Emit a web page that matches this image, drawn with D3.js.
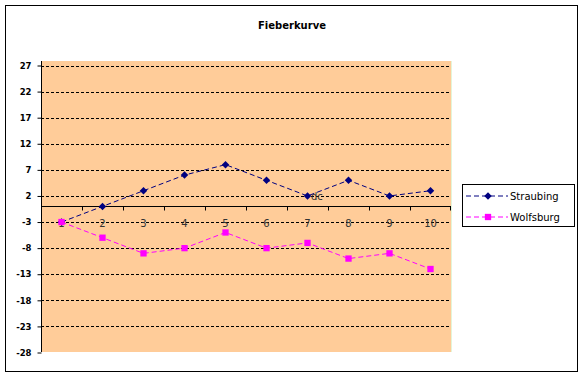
<html>
<head>
<meta charset="utf-8">
<script src="https://cdn.jsdelivr.net/npm/d3@7"></script>
<style>
    body { margin: 0; background: #fff; }
    text { font-family: "DejaVu Sans", sans-serif; }
</style>
</head>
<body>
<svg id="chart" width="584" height="377"></svg>
<script>
    // Daten
    var tage = ["1", "2", "3", "4", "5", "6", "7", "8", "9", "10"];
    var straubing = [-3, 0, 3, 6, 8, 5, 2, 5, 2, 3];
    var wolfsburg = [-3, -6, -9, -8, -5, -8, -7, -10, -9, -12];
    var yTicks = [27, 22, 17, 12, 7, 2, -3, -8, -13, -18, -23, -28];
    var serien = [
        { name: "Straubing", values: straubing, color: "#000080", symbol: d3.symbolDiamond2, size: 36 },
        { name: "Wolfsburg", values: wolfsburg, color: "#ff00ff", symbol: d3.symbolSquare, size: 40 }
    ];

    var svg = d3.select("svg");

    // Rahmen
    svg.append("rect")
        .attr("x", 5.5).attr("y", 5.5)
        .attr("width", 572).attr("height", 366)
        .attr("fill", "#fff")
        .attr("stroke", "#000")
        .attr("stroke-width", 1);

    svg.append("text")
        .attr("x", 292)
        .attr("y", 29)
        .attr("text-anchor", "middle")
        .style("font-size", "10px")
        .style("font-weight", "bold")
        .text("Fieberkurve");

    var pLeft = 41, pRight = 451, pTop = 61, pBottom = 352;

    var x = d3.scaleBand().domain(tage).range([pLeft, pRight]);
    var y = d3.scaleLinear().domain([-28, 27]).range([352.5, 65.5]);

    // Zeichenfläche
    svg.append("rect")
        .attr("x", pLeft).attr("y", pTop)
        .attr("width", pRight - pLeft).attr("height", pBottom - pTop)
        .attr("fill", "#ffcc99");
    svg.append("line")
        .attr("x1", pRight + 0.5).attr("x2", pRight + 0.5)
        .attr("y1", pTop).attr("y2", pBottom)
        .attr("stroke", "#e4f5d8");

    // Gitternetz
    svg.append("g")
        .selectAll("line")
        .data(yTicks.filter(function(d) { return d != -28; }))
        .enter().append("line")
        .attr("x1", pLeft).attr("x2", pRight)
        .attr("y1", function(d) { return Math.round(y(d)) + 0.5; })
        .attr("y2", function(d) { return Math.round(y(d)) + 0.5; })
        .attr("stroke", "#000")
        .attr("stroke-dasharray", "3,2");

    // y-Achse
    var gy = svg.append("g")
        .attr("transform", "translate(" + (pLeft + 0.5) + ",0)")
        .call(d3.axisLeft(y).tickValues(yTicks).tickSize(4).tickSizeOuter(0).tickPadding(6)
            .tickFormat(function(d) { return d + ""; }));
    gy.select(".domain").attr("d", "M0," + pTop + "V" + pBottom);
    gy.selectAll("text")
        .style("font-size", "8.5px")
        .style("font-weight", "bold")
        .attr("font-family", null);

    // x-Achse bei 0
    var y0 = Math.round(y(0)) + 0.5;
    svg.append("line")
        .attr("x1", pLeft).attr("x2", pRight)
        .attr("y1", y0).attr("y2", y0)
        .attr("stroke", "#000");
    svg.append("g")
        .selectAll("line")
        .data(tage.slice(1).concat(["end"]))
        .enter().append("line")
        .attr("x1", function(d) { return d == "end" ? pRight - 0.5 : Math.round(x(d)) + 0.5; })
        .attr("x2", function(d) { return d == "end" ? pRight - 0.5 : Math.round(x(d)) + 0.5; })
        .attr("y1", y0).attr("y2", y0 + 4)
        .attr("stroke", "#000");
    svg.append("g")
        .selectAll("text")
        .data(tage)
        .enter().append("text")
        .attr("x", function(d) { return x(d) + x.bandwidth() / 2; })
        .attr("y", y0 + 20)
        .attr("text-anchor", "middle")
        .style("font-size", "10px")
        .attr("fill", "#333")
        .text(function(d) { return d; });

    svg.append("text")
        .attr("x", 311)
        .attr("y", 200)
        .style("font-size", "10px")
        .attr("fill", "#333")
        .text("dc");

    // Linien
    var line = d3.line()
        .x(function(d, i) { return x(tage[i]) + x.bandwidth() / 2; })
        .y(function(d) { return y(d); });

    serien.forEach(function(s) {
        svg.append("path")
            .attr("d", line(s.values))
            .attr("fill", "none")
            .attr("stroke", s.color)
            .attr("stroke-dasharray", "5,3");
        svg.append("g")
            .selectAll("path")
            .data(s.values)
            .enter().append("path")
            .attr("transform", function(d, i) {
                return "translate(" + (x(tage[i]) + x.bandwidth() / 2) + "," + y(d) + ")";
            })
            .attr("d", d3.symbol().type(s.symbol).size(s.size))
            .attr("fill", s.color);
    });

    // Legende
    var legend = svg.append("g");
    legend.append("rect")
        .attr("x", 462.5).attr("y", 184.5)
        .attr("width", 112).attr("height", 42)
        .attr("fill", "#fff")
        .attr("stroke", "#000");
    serien.forEach(function(s, i) {
        var ly = 196 + i * 21;
        legend.append("line")
            .attr("x1", 466).attr("x2", 508)
            .attr("y1", ly).attr("y2", ly)
            .attr("stroke", s.color)
            .attr("stroke-dasharray", "5,3");
        legend.append("path")
            .attr("transform", "translate(488," + ly + ")")
            .attr("d", d3.symbol().type(s.symbol).size(s.size))
            .attr("fill", s.color);
        legend.append("text")
            .attr("x", 510)
            .attr("y", ly + 4)
            .style("font-size", "10px")
            .text(s.name);
    });
</script>
</body>
</html>
